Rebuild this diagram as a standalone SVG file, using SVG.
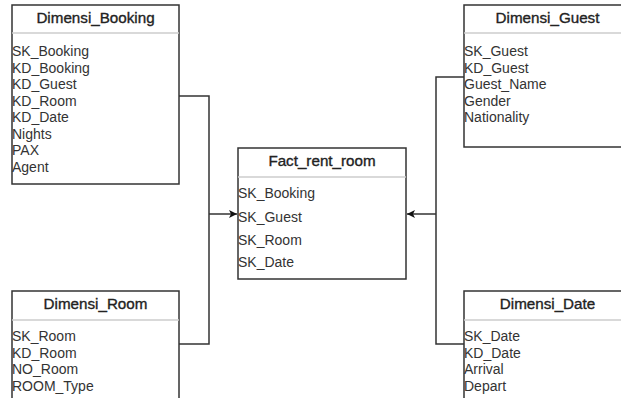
<svg xmlns="http://www.w3.org/2000/svg" width="621" height="398" viewBox="0 0 621 398">
<style>
.box{fill:#fff;stroke:#333;stroke-width:1.5}
.div{stroke:#ccc;stroke-width:1.5}
.t{font-family:"Liberation Sans",Arial,sans-serif;font-size:15.2px;fill:#222;stroke:#222;stroke-width:0.35;text-anchor:middle}
.r{font-family:"Liberation Sans",Arial,sans-serif;font-size:14px;fill:#333}
.c{fill:none;stroke:#333;stroke-width:1.5}
</style>
<defs>
<marker id="ah" markerWidth="10" markerHeight="10" refX="9" refY="5" orient="auto" markerUnits="userSpaceOnUse">
<path d="M1,1 L9,5 L1,9 L3,5 Z" fill="#111"/>
</marker>
</defs>
<rect width="621" height="398" fill="#fff"/>
<g id="connectors">
<path class="c" d="M179,96 H209 V344 H179"/>
<path class="c" d="M209,214 H237" marker-end="url(#ah)"/>
<path class="c" d="M464,77 H436 V344 H464"/>
<path class="c" d="M436,214 H407" marker-end="url(#ah)"/>
</g>
<g id="Dimensi_Booking">
<rect class="box" x="12" y="5" width="167" height="179"/>
<line class="div" x1="12" y1="33" x2="179" y2="33"/>
<text class="t" x="95.5" y="23">Dimensi_Booking</text>
<text class="r" x="12" y="56">SK_Booking</text>
<text class="r" x="12" y="72.5">KD_Booking</text>
<text class="r" x="12" y="89">KD_Guest</text>
<text class="r" x="12" y="105.5">KD_Room</text>
<text class="r" x="12" y="122">KD_Date</text>
<text class="r" x="12" y="138.5">Nights</text>
<text class="r" x="12" y="155">PAX</text>
<text class="r" x="12" y="171.5">Agent</text>
</g>
<g id="Dimensi_Guest">
<rect class="box" x="464" y="5" width="167" height="142"/>
<line class="div" x1="464" y1="33" x2="631" y2="33"/>
<text class="t" x="547.5" y="23">Dimensi_Guest</text>
<text class="r" x="464" y="56">SK_Guest</text>
<text class="r" x="464" y="72.5">KD_Guest</text>
<text class="r" x="464" y="89">Guest_Name</text>
<text class="r" x="464" y="105.5">Gender</text>
<text class="r" x="464" y="122">Nationality</text>
</g>
<g id="Fact_rent_room">
<rect class="box" x="238" y="148" width="168" height="131"/>
<line class="div" x1="238" y1="177" x2="406" y2="177"/>
<text class="t" x="322" y="166">Fact_rent_room</text>
<text class="r" x="238" y="198">SK_Booking</text>
<text class="r" x="238" y="221.5">SK_Guest</text>
<text class="r" x="238" y="245">SK_Room</text>
<text class="r" x="238" y="267">SK_Date</text>
</g>
<g id="Dimensi_Room">
<rect class="box" x="12" y="291" width="167" height="120"/>
<line class="div" x1="12" y1="320" x2="179" y2="320"/>
<text class="t" x="95.5" y="309">Dimensi_Room</text>
<text class="r" x="12" y="341">SK_Room</text>
<text class="r" x="12" y="357.5">KD_Room</text>
<text class="r" x="12" y="374">NO_Room</text>
<text class="r" x="12" y="390.5">ROOM_Type</text>
</g>
<g id="Dimensi_Date">
<rect class="box" x="464" y="291" width="167" height="120"/>
<line class="div" x1="464" y1="320" x2="631" y2="320"/>
<text class="t" x="547.5" y="309">Dimensi_Date</text>
<text class="r" x="464" y="341">SK_Date</text>
<text class="r" x="464" y="357.5">KD_Date</text>
<text class="r" x="464" y="374">Arrival</text>
<text class="r" x="464" y="390.5">Depart</text>
</g>
</svg>
